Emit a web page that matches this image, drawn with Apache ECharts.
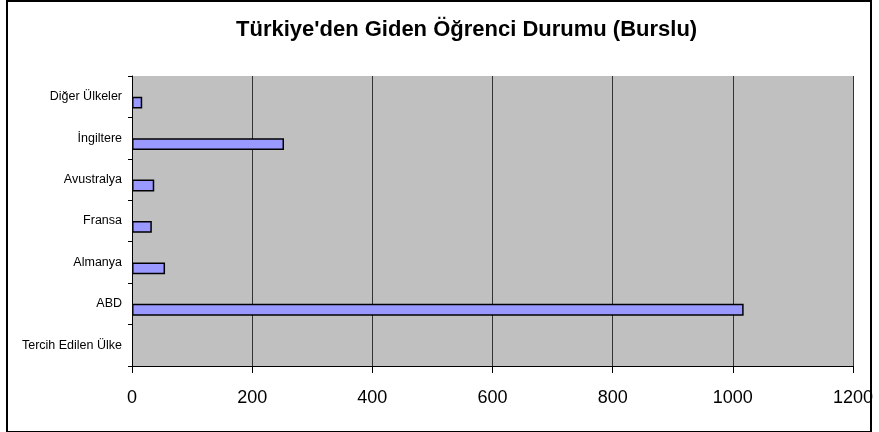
<!DOCTYPE html>
<html>
<head>
<meta charset="utf-8">
<script src="https://cdn.jsdelivr.net/npm/echarts@6/dist/echarts.min.js"></script>
<style>
  html, body { margin: 0; padding: 0; background: #fff; }
  #frame { position: absolute; left: 6px; top: 0px; width: 862px; height: 429px; border: 2px solid #000; }
  #chart { position: absolute; left: 0; top: 0; width: 879px; height: 432px; }
</style>
</head>
<body>
<div id="frame"></div>
<div id="chart"></div>
<script>
const titleText = "Türkiye'den Giden Öğrenci Durumu (Burslu)";
const categories = ["Tercih Edilen Ülke", "ABD", "Almanya", "Fransa", "Avustralya", "İngiltere", "Diğer Ülkeler"];
const burslu = [null, 1018, 55, 33, 37, 253, 17];
const emptySeries = [null, null, null, null, null, null, null];
const xTicks = [0, 200, 400, 600, 800, 1000, 1200];

let myChart = echarts.init(document.getElementById("chart"));
let option = {
  animation: false,
  title: {
    text: titleText,
    left: 231,
    top: 14,
    textStyle: {
      color: "#000",
      fontSize: 22,
      fontWeight: "bold",
      fontFamily: "Liberation Sans",
    },
  },
  grid: {
    left: 132,
    right: 26,
    top: 76,
    bottom: 66,
    show: true,
    backgroundColor: "#c0c0c0",
    borderWidth: 0,
  },
  xAxis: {
    type: "value",
    min: xTicks[0],
    max: xTicks[xTicks.length - 1],
    interval: 200,
    axisLine: { show: true, lineStyle: { color: "#000", width: 1 } },
    axisTick: { show: true, length: 7, lineStyle: { color: "#000" } },
    axisLabel: {
      color: "#000",
      fontSize: 18,
      fontFamily: "Liberation Sans",
      margin: 23,
      formatter: (v) => String(v),
    },
    splitLine: { show: true, lineStyle: { color: "#333", width: 1 } },
  },
  yAxis: {
    type: "category",
    data: categories,
    axisLine: { show: true, lineStyle: { color: "#000", width: 1 } },
    axisTick: { show: true, length: 4, lineStyle: { color: "#000" } },
    axisLabel: {
      color: "#000",
      fontSize: 12.5,
      fontFamily: "Liberation Sans",
      margin: 10,
    },
    splitLine: { show: false },
  },
  series: [
    {
      name: "bos",
      type: "bar",
      data: emptySeries,
      barGap: 0,
      barCategoryGap: "43%",
    },
    {
      name: "Burslu",
      type: "bar",
      data: burslu,
      barGap: 0,
      barCategoryGap: "43%",
      itemStyle: { color: "#9999ff", borderColor: "#000", borderWidth: 1.5 },
    },
  ],
};
myChart.setOption(option);
</script>
</body>
</html>
